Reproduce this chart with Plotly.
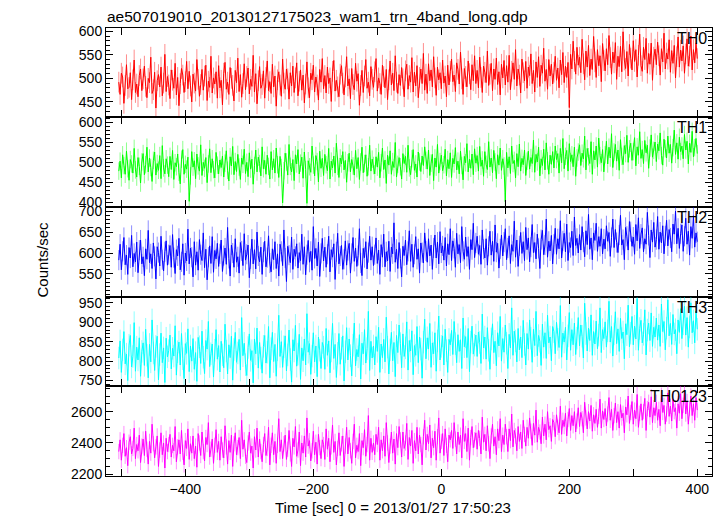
import plotly.graph_objects as go

# ---- data (2 s bins) ----
TIME_START = -504
TIME_STEP = 2

TH0 = [492, 466, 511, 503, 447, 485, 529, 478, 481, 512, 455, 497, 539, 470, 488, 461, 506, 520, 474, 499,
       526, 483, 459, 500, 491, 545, 468, 476, 513, 437, 495, 508, 482, 524, 463, 490, 551, 472, 504, 486,
       457, 518, 496, 479, 532, 465, 502, 442, 489, 521, 507, 470, 493, 536, 478, 515, 484, 450, 509, 490,
       473, 540, 498, 462, 487, 519, 475, 505, 528, 453, 494, 481, 547, 469, 501, 488, 514, 458, 527, 480,
       496, 444, 511, 534, 477, 492, 466, 523, 500, 485, 452, 517, 491, 543, 472, 508, 460, 489, 531, 476,
       504, 522, 467, 498, 483, 549, 471, 510, 446, 495, 525, 479, 487, 516, 458, 502, 537, 474, 493, 468,
       530, 482, 505, 441, 497, 514, 486, 462, 541, 490, 477, 520, 499, 456, 512, 484, 526, 470, 501, 533,
       463, 494, 518, 475, 507, 448, 488, 535, 480, 459, 511, 497, 528, 471, 503, 486, 454, 519, 492, 542,
       478, 506, 469, 524, 489, 501, 451, 515, 538, 473, 496, 482, 461, 509, 527, 490, 465, 503, 546, 484,
       499, 457, 521, 487, 476, 532, 494, 510, 443, 485, 517, 470, 505, 540, 479, 492, 463, 525, 498, 481,
       514, 542, 473, 501, 489, 466, 528, 504, 480, 519, 455, 497, 537, 486, 511, 474, 548, 492, 468, 508,
       485, 523, 499, 461, 516, 530, 477, 506, 492, 544, 471, 513, 484, 527, 459, 502, 520, 489, 553, 475,
       509, 468, 531, 495, 518, 482, 546, 501, 464, 524, 497, 512, 478, 539, 490, 505, 461, 528, 486, 515,
       541, 493, 507, 472, 533, 519, 488, 556, 499, 466, 521, 504, 482, 537, 510, 476, 529, 495, 548, 489,
       517, 480, 545, 502, 470, 526, 513, 491, 558, 485, 509, 532, 474, 520, 498, 543, 487, 514, 465, 530,
       501, 538, 486, 527, 492, 549, 476, 515, 533, 498, 561, 484, 520, 507, 469, 541, 512, 495, 536, 479,
       524, 506, 552, 489, 517, 471, 535, 502, 546, 483, 528, 511, 564, 494, 519, 477, 540, 505, 530, 488,
       513, 547, 496, 522, 480, 539, 508, 555, 491, 526, 502, 534, 438, 551, 520, 579, 536, 509, 566, 528,
       545, 512, 583, 531, 497, 558, 524, 570, 506, 541, 519, 589, 535, 502, 561, 527, 548, 493, 574, 538,
       516, 563, 529, 591, 544, 509, 556, 533, 576, 498, 547, 525, 568, 514, 599, 539, 521, 557, 505, 572,
       543, 518, 580, 536, 561, 503, 549, 594, 527, 515, 566, 540, 585, 511, 553, 530, 575, 496, 545, 562,
       529, 577, 548, 507, 563, 535, 596, 520, 554, 541, 582, 513, 559, 532, 570, 501, 546, 588, 524, 560,
       537, 569, 511, 552, 584, 526, 547, 590, 518, 561, 533, 575, 542]

TH1 = [478, 503, 461, 519, 492, 470, 528, 484, 455, 507, 496, 473, 535, 481, 463, 512, 490, 448, 501, 522,
       469, 494, 538, 476, 511, 487, 452, 505, 526, 468, 497, 480, 517, 459, 542, 486, 471, 509, 493, 464,
       515, 482, 530, 457, 499, 489, 521, 475, 446, 508, 532, 470, 495, 483, 513, 402, 466, 527, 488, 504,
       459, 521, 491, 478, 544, 467, 500, 485, 512, 449, 496, 534, 474, 509, 482, 461, 525, 493, 471, 506,
       487, 516, 463, 498, 529, 480, 453, 514, 491, 540, 469, 502, 477, 520, 488, 457, 511, 495, 533, 472,
       500, 464, 524, 483, 508, 445, 492, 531, 476, 513, 497, 466, 539, 484, 505, 470, 518, 490, 458, 527,
       481, 509, 473, 536, 494, 462, 515, 487, 398, 479, 523, 501, 468, 545, 490, 476, 507, 454, 519, 496,
       532, 471, 498, 513, 460, 526, 482, 397, 504, 489, 475, 541, 493, 466, 517, 502, 451, 528, 485, 510,
       467, 520, 494, 479, 535, 458, 503, 486, 516, 473, 548, 490, 462, 511, 496, 527, 481, 505, 450, 499,
       523, 476, 507, 491, 468, 530, 484, 512, 457, 501, 538, 474, 497, 519, 465, 489, 543, 478, 508, 492,
       471, 514, 488, 525, 461, 499, 536, 482, 506, 447, 518, 493, 529, 470, 502, 487, 550, 463, 495, 512,
       489, 458, 522, 497, 515, 475, 543, 486, 469, 509, 532, 480, 496, 463, 526, 501, 477, 516, 492, 539,
       505, 483, 531, 467, 498, 520, 454, 511, 488, 545, 473, 502, 518, 479, 494, 533, 466, 507, 484, 524,
       462, 510, 496, 537, 481, 503, 471, 528, 492, 456, 515, 499, 547, 476, 508, 485, 521, 469, 534, 498,
       517, 478, 540, 490, 506, 465, 527, 495, 482, 552, 488, 511, 474, 530, 501, 459, 519, 493, 536, 480,
       509, 491, 401, 525, 486, 514, 472, 541, 497, 505, 461, 522, 489, 546, 478, 510, 494, 531, 467, 503,
       528, 483, 512, 497, 556, 475, 520, 501, 538, 466, 509, 492, 533, 481, 549, 504, 470, 518, 495, 527,
       486, 541, 507, 522, 473, 535, 499, 560, 484, 515, 530, 478, 547, 502, 519, 489, 538, 465, 511, 526,
       544, 492, 523, 509, 566, 481, 535, 514, 497, 552, 470, 529, 506, 541, 488, 561, 517, 499, 532, 476,
       519, 553, 496, 538, 511, 572, 487, 526, 545, 503, 531, 480, 557, 515, 494, 542, 522, 568, 500, 534,
       548, 505, 527, 562, 491, 539, 518, 577, 510, 532, 497, 555, 524, 543, 485, 536, 569, 513, 530, 551,
       502, 546, 529, 574, 517, 493, 558, 534, 511, 566, 523, 545, 498, 537, 581, 520, 549, 508, 563, 527,
       541, 509, 570, 531, 553, 496, 548, 525, 578, 514, 537, 560, 522]

TH2 = [583, 621, 560, 604, 637, 572, 595, 549, 613, 588, 642, 567, 599, 579, 626, 553, 607, 631, 574, 591,
       546, 610, 585, 654, 577, 598, 563, 624, 592, 538, 615, 601, 569, 640, 584, 557, 603, 629, 571, 596,
       618, 566, 644, 589, 551, 608, 593, 635, 560, 579, 622, 547, 600, 581, 657, 574, 612, 590, 543, 627,
       571, 603, 559, 632, 596, 582, 648, 565, 609, 536, 590, 617, 575, 639, 554, 606, 586, 623, 568, 598,
       631, 556, 594, 612, 573, 661, 587, 545, 619, 600, 566, 634, 578, 591, 552, 625, 605, 570, 646, 583,
       597, 619, 541, 586, 633, 574, 608, 562, 650, 593, 579, 614, 549, 602, 628, 567, 589, 641, 576, 555,
       610, 584, 627, 563, 598, 545, 621, 604, 570, 655, 588, 532, 616, 595, 577, 638, 561, 609, 592, 622,
       564, 601, 582, 645, 573, 615, 548, 596, 630, 578, 604, 559, 663, 587, 611, 569, 626, 544, 599, 635,
       581, 614, 566, 597, 640, 555, 608, 590, 622, 537, 603, 647, 574, 593, 618, 561, 585, 629, 571, 606,
       623, 552, 599, 637, 580, 612, 568, 594, 658, 576, 546, 611, 589, 627, 562, 601, 640, 583, 615, 570,
       596, 636, 575, 607, 549, 620, 590, 645, 567, 603, 581, 628, 556, 614, 598, 672, 578, 609, 563, 625,
       587, 543, 616, 594, 631, 572, 604, 653, 580, 621, 566, 597, 639, 585, 610, 552, 624, 601, 576, 648,
       605, 578, 634, 593, 619, 561, 612, 643, 588, 626, 574, 651, 600, 617, 583, 637, 569, 622, 596, 658,
       582, 629, 611, 566, 647, 598, 620, 577, 663, 604, 585, 638, 592, 615, 561, 632, 608, 671, 589, 624,
       640, 597, 618, 573, 655, 609, 588, 634, 571, 616, 652, 595, 628, 580, 667, 602, 623, 564, 610, 643,
       593, 626, 658, 584, 612, 641, 575, 620, 604, 676, 590, 631, 568, 617, 649, 599, 627, 582, 661, 608,
       636, 579, 614, 668, 601, 625, 586, 645, 611, 563, 632, 654, 596, 619, 681, 590, 628, 605, 642, 574,
       621, 659, 597, 634, 610, 677, 588, 629, 647, 603, 669, 582, 625, 613, 652, 594, 686, 618, 635, 600,
       644, 607, 663, 626, 591, 653, 620, 692, 609, 636, 584, 648, 630, 671, 604, 639, 616, 658, 598, 633,
       610, 665, 628, 649, 592, 637, 681, 613, 656, 625, 601, 643, 690, 619, 632, 584, 661, 640, 607, 675,
       651, 616, 638, 597, 668, 629, 684, 611, 645, 660, 603, 634, 621, 697, 642, 589, 655, 626, 673, 614,
       632, 687, 609, 650, 624, 665, 598, 641, 678, 617, 656, 636, 603, 669, 645, 700, 622, 659, 611, 646,
       667, 604, 640, 683, 621, 652, 595, 663, 635, 689, 614, 648, 627]

TH3 = [808, 852, 771, 829, 876, 793, 818, 750, 841, 866, 785, 812, 899, 774, 836, 803, 860, 761, 825, 847,
       789, 882, 815, 757, 843, 798, 906, 821, 776, 838, 864, 752, 817, 872, 796, 834, 745, 859, 811, 827,
       867, 780, 833, 813, 891, 764, 824, 849, 790, 871, 806, 755, 845, 820, 883, 773, 839, 800, 858, 779,
       822, 748, 861, 837, 794, 877, 810, 768, 853, 831, 902, 786, 819, 844, 759, 828, 881, 805, 840, 772,
       851, 816, 783, 895, 826, 767, 842, 809, 864, 751, 830, 874, 797, 821, 856, 777, 912, 814, 846, 791,
       763, 835, 870, 802, 827, 744, 857, 819, 885, 782, 848, 808, 769, 838, 866, 795, 823, 889, 757, 832,
       874, 799, 843, 761, 829, 918, 812, 850, 784, 837, 865, 775, 816, 880, 804, 746, 855, 826, 892, 787,
       818, 869, 753, 834, 801, 857, 790, 922, 823, 845, 766, 813, 873, 798, 839, 760, 862, 828, 781, 848,
       836, 779, 884, 815, 852, 770, 826, 897, 807, 843, 758, 820, 871, 792, 833, 865, 749, 824, 886, 803,
       857, 814, 762, 841, 898, 788, 830, 811, 868, 754, 846, 819, 881, 795, 832, 928, 776, 851, 808, 839,
       790, 863, 825, 887, 771, 844, 809, 856, 798, 913, 836, 767, 829, 874, 801, 848, 760, 866, 822, 893,
       845, 783, 870, 812, 834, 901, 777, 853, 826, 878, 765, 840, 815, 889, 796, 862, 831, 756, 849, 908,
       806, 860, 831, 897, 784, 847, 819, 873, 774, 852, 916, 803, 838, 865, 790, 882, 827, 771, 856, 842,
       879, 817, 902, 845, 796, 868, 825, 855, 781, 911, 837, 863, 809, 884, 773, 849, 890, 818, 841, 867,
       812, 875, 848, 794, 921, 834, 862, 805, 886, 828, 779, 857, 896, 822, 851, 788, 873, 839, 915, 800,
       858, 823, 893, 846, 781, 869, 834, 937, 815, 877, 852, 798, 884, 829, 862, 809, 905, 843, 790, 871,
       831, 906, 859, 797, 882, 840, 928, 814, 866, 851, 789, 895, 836, 873, 807, 918, 847, 862, 801, 889,
       876, 819, 900, 856, 835, 943, 810, 872, 849, 887, 803, 865, 925, 828, 881, 842, 898, 817, 859, 912,
       839, 893, 864, 808, 949, 871, 826, 885, 853, 919, 815, 876, 844, 903, 832, 867, 937, 822, 881, 858,
       901, 836, 878, 954, 849, 889, 813, 870, 927, 845, 883, 825, 910, 858, 875, 806, 896, 868, 944, 837,
       872, 915, 842, 890, 857, 961, 828, 884, 905, 847, 869, 932, 816, 880, 898, 853, 924, 838, 887, 862,
       911, 854, 893, 838, 947, 876, 902, 829, 885, 958, 865, 897, 843, 920, 870, 881, 819, 906, 874, 935,
       858, 896, 941, 867, 912, 836, 888, 950, 873, 904, 847, 929, 882]

TH0123 = [2345, 2420, 2290, 2385, 2460, 2315, 2370, 2255, 2405, 2440, 2330, 2365, 2495, 2300, 2390, 2350, 2450, 2275, 2380, 2425,
          2320, 2475, 2360, 2265, 2410, 2335, 2520, 2395, 2305, 2375, 2445, 2250, 2355, 2465, 2325, 2400, 2240, 2430, 2345, 2390,
          2455, 2310, 2385, 2350, 2505, 2280, 2375, 2420, 2330, 2480, 2340, 2260, 2415, 2365, 2490, 2295, 2395, 2335, 2445, 2300,
          2380, 2245, 2460, 2400, 2320, 2470, 2345, 2285, 2435, 2390, 2530, 2310, 2360, 2425, 2270, 2385, 2485, 2340, 2410, 2290,
          2440, 2355, 2305, 2510, 2375, 2265, 2415, 2340, 2450, 2250, 2395, 2465, 2325, 2370, 2435, 2300, 2545, 2360, 2420, 2315,
          2275, 2400, 2470, 2335, 2380, 2240, 2440, 2355, 2495, 2310, 2425, 2345, 2280, 2390, 2460, 2320, 2365, 2500, 2260, 2385,
          2465, 2325, 2410, 2270, 2385, 2555, 2345, 2420, 2300, 2395, 2450, 2295, 2360, 2480, 2330, 2250, 2430, 2375, 2505, 2315,
          2355, 2470, 2255, 2400, 2335, 2445, 2310, 2560, 2380, 2415, 2285, 2350, 2475, 2325, 2405, 2265, 2455, 2370, 2300, 2420,
          2390, 2295, 2490, 2360, 2430, 2280, 2375, 2515, 2340, 2410, 2260, 2365, 2465, 2320, 2395, 2445, 2250, 2380, 2500, 2330,
          2435, 2350, 2270, 2410, 2520, 2305, 2385, 2345, 2460, 2255, 2415, 2370, 2485, 2315, 2390, 2575, 2290, 2430, 2340, 2400,
          2325, 2455, 2390, 2500, 2290, 2420, 2350, 2445, 2315, 2530, 2400, 2275, 2380, 2470, 2335, 2425, 2265, 2460, 2370, 2505,
          2420, 2310, 2470, 2365, 2400, 2525, 2295, 2435, 2380, 2480, 2270, 2415, 2350, 2500, 2330, 2450, 2390, 2260, 2440, 2545,
          2355, 2455, 2395, 2515, 2305, 2430, 2370, 2475, 2290, 2440, 2560, 2335, 2410, 2460, 2320, 2490, 2385, 2280, 2450, 2420,
          2480, 2365, 2530, 2425, 2330, 2470, 2390, 2450, 2305, 2555, 2410, 2460, 2345, 2495, 2290, 2435, 2505, 2370, 2420, 2465,
          2360, 2480, 2430, 2330, 2565, 2405, 2455, 2350, 2510, 2395, 2300, 2445, 2520, 2380, 2440, 2325, 2490, 2415, 2555, 2345,
          2450, 2390, 2520, 2440, 2345, 2490, 2415, 2585, 2375, 2480, 2445, 2350, 2505, 2410, 2470, 2365, 2545, 2455, 2380, 2500,
          2430, 2560, 2475, 2385, 2525, 2450, 2610, 2405, 2500, 2470, 2395, 2565, 2445, 2520, 2420, 2600, 2485, 2510, 2410, 2550,
          2530, 2440, 2580, 2500, 2465, 2635, 2455, 2545, 2505, 2590, 2445, 2550, 2620, 2480, 2575, 2510, 2600, 2470, 2540, 2625,
          2505, 2595, 2555, 2465, 2660, 2560, 2490, 2600, 2540, 2640, 2475, 2580, 2525, 2615, 2500, 2570, 2680, 2495, 2605, 2550,
          2620, 2510, 2585, 2690, 2545, 2615, 2480, 2575, 2655, 2530, 2600, 2495, 2645, 2560, 2590, 2465, 2630, 2580, 2700, 2525,
          2595, 2665, 2520, 2610, 2555, 2710, 2500, 2590, 2650, 2545, 2600, 2685, 2480, 2620, 2660, 2565, 2695, 2530, 2625, 2575,
          2660, 2545, 2615, 2510, 2705, 2595, 2640, 2520, 2585, 2720, 2570, 2635, 2540, 2680, 2600, 2625, 2495, 2650, 2590, 2715,
          2555, 2640, 2730, 2585, 2665, 2520, 2620, 2700, 2575, 2650, 2545, 2690, 2610]

PANEL_NAMES = ["TH0", "TH1", "TH2", "TH3", "TH0123"]
SERIES = [TH0, TH1, TH2, TH3, TH0123]
ERRORS = [22, 22, 24, 29, 49]
Y_RANGES = [[418, 607], [389, 614], [495, 711], [736, 965], [2189, 2764]]
Y_TICKS = [[450, 500, 550, 600], [400, 450, 500, 550, 600], [550, 600, 650, 700],
           [750, 800, 850, 900, 950], [2200, 2400, 2600]]
Y_MINOR = [10, 10, 10, 10, 50]
X_TICKVALS = [-500, -400, -300, -200, -100, 0, 100, 200, 300, 400]
X_TICKTEXT = ["", "\u2212400", "", "\u2212200", "", "0", "", "200", "", "400"]
X_RANGE = [-524, 423]

COLORS = ["#ff0000", "#00ff00", "#0000ff", "#00ffff", "#ff00ff"]
LIGHT = ["rgba(255,0,0,0.45)", "rgba(0,255,0,0.45)", "rgba(0,0,255,0.45)",
         "rgba(0,255,255,0.45)", "rgba(255,0,255,0.45)"]

# ---- layout geometry (page body has an 8 px margin) ----
W, H = 716, 508
ML, MR, MT, MB = 98, 12, 20, 40
PLOT_H = H - MT - MB
BOUNDS_PX = [0, 89, 178.5, 269, 358, 448]
DOMAINS = []
for i in range(5):
    top = 1 - BOUNDS_PX[i] / PLOT_H
    bot = 1 - BOUNDS_PX[i + 1] / PLOT_H
    DOMAINS.append([max(0, bot), min(1, top)])

FONT = "Liberation Sans, Arial, Helvetica, sans-serif"

fig = go.Figure()
layout = {}
annotations = []
for i in range(5):
    n = i + 1
    sfx = "" if n == 1 else str(n)
    vals = SERIES[i]
    t = [TIME_START + TIME_STEP * k for k in range(len(vals))]
    fig.add_trace(go.Scatter(
        x=t, y=vals, mode="lines",
        line=dict(color=COLORS[i], width=1),
        error_y=dict(type="constant", value=ERRORS[i], color=LIGHT[i], thickness=1, width=0),
        xaxis="x" + sfx, yaxis="y" + sfx, showlegend=False, hoverinfo="skip"))
    xa = dict(
        domain=[0, 1], anchor="y" + sfx, range=X_RANGE,
        tickvals=X_TICKVALS, ticktext=X_TICKTEXT,
        showticklabels=(n == 5), ticks="inside", ticklen=7, tickwidth=1, tickcolor="black",
        showline=True, linecolor="black", linewidth=1, mirror="ticks",
        showgrid=False, zeroline=False,
        tickfont=dict(family=FONT, size=14, color="black"))
    if n != 5:
        xa["matches"] = "x5"
    ya = dict(
        domain=DOMAINS[i], anchor="x" + sfx, range=Y_RANGES[i],
        tickvals=Y_TICKS[i], ticks="inside", ticklen=7, tickwidth=1, tickcolor="black",
        minor=dict(dtick=Y_MINOR[i], ticks="inside", ticklen=4, tickcolor="black", showgrid=False),
        showline=True, linecolor="black", linewidth=1, mirror="ticks",
        showgrid=False, zeroline=False,
        tickfont=dict(family=FONT, size=14, color="black"))
    layout["xaxis" + sfx] = xa
    layout["yaxis" + sfx] = ya
    annotations.append(dict(
        text=PANEL_NAMES[i], xref="x" + sfx + " domain", yref="y" + sfx + " domain",
        x=1, y=1, xanchor="right", yanchor="top", xshift=-3, yshift=0,
        showarrow=False, font=dict(family=FONT, size=16, color="black")))

annotations.append(dict(
    text="ae507019010_20130127175023_wam1_trn_4band_long.qdp",
    xref="paper", yref="paper", x=0, y=1, xanchor="left", yanchor="bottom",
    xshift=0, yshift=2, borderpad=0, showarrow=False,
    font=dict(family=FONT, size=15.5, color="black")))
annotations.append(dict(
    text="Time [sec] 0 = 2013/01/27 17:50:23",
    xref="paper", yref="paper", x=(384.5 - ML) / (W - ML - MR), y=0,
    xanchor="center", yanchor="middle", yshift=-31, showarrow=False,
    font=dict(family=FONT, size=15, color="black")))
annotations.append(dict(
    text="Counts/sec", textangle=-90,
    xref="paper", yref="paper", x=0, y=(PLOT_H - (251.5 - MT)) / PLOT_H,
    xanchor="center", yanchor="middle", xshift=34 - ML, showarrow=False,
    font=dict(family=FONT, size=15, color="black")))

fig.update_layout(
    width=W, height=H, margin=dict(l=ML, r=MR, t=MT, b=MB, pad=0),
    paper_bgcolor="white", plot_bgcolor="white",
    annotations=annotations, **layout)

fig.write_html("out.html")
